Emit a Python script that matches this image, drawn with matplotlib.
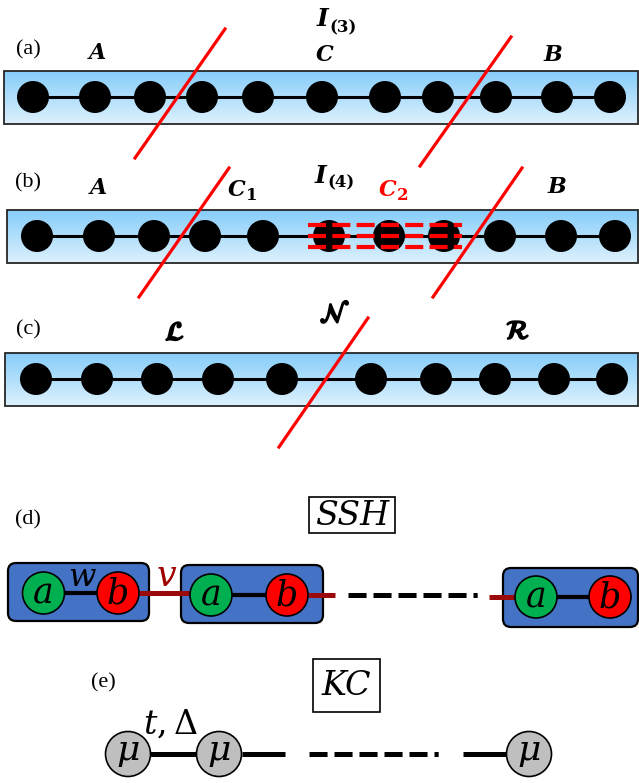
import numpy as np
import matplotlib.pyplot as plt
from matplotlib.patches import Rectangle, Circle, FancyBboxPatch
from matplotlib.colors import LinearSegmentedColormap
import matplotlib.patheffects as pe

plt.rcParams['lines.scale_dashes'] = False

W, H = 639, 783

# site x positions along each chain, panels (a)-(c)
sites_a = [33, 95, 150, 202, 258, 322, 385, 438, 496, 557, 610]
sites_b = [37, 99, 154, 205, 263, 329, 389, 444, 500, 561, 615]
sites_c = [36, 97, 157, 218, 282, 371, 436, 495, 554, 612]
chain_y = [97, 236, 379]
strips = [(4, 71, 124), (7, 210, 263), (5, 353, 406)]  # left, top, bottom

# partition cuts (red slanted lines)
cuts = [((225, 29), (135, 158)), ((511, 37), (420, 166)),
        ((229, 168), (139, 297)), ((522, 168), (433, 297)),
        ((368, 318), (279, 447))]

# region C2 in panel (b), dashed red rows
c2_span = (308, 462)
c2_rows = [225, 236, 247]

# SSH chain, panel (d)
cells = [(8, 149, 563, 621), (181, 323, 565, 623), (503, 638, 568, 627)]
ssh_a = [43.5, 211, 536]
ssh_b = [118, 287, 610]
ssh_y = [593, 595, 597]
ssh_v = [(139, 190, 593), (308, 335, 595), (489, 514, 597)]

# Kitaev chain, panel (e)
kc_x = [128, 219, 529]
kc_y = 754
kc_bonds = [(150, 197), (242, 285), (463, 507)]

panel_tags = [("(a)", 28, 50), ("(b)", 28, 183), ("(c)", 28, 330),
              ("(d)", 28, 520), ("(e)", 103, 683)]

fig = plt.figure(figsize=(W / 100, H / 100), dpi=100)
ax = fig.add_axes([0, 0, 1, 1])

sky = LinearSegmentedColormap.from_list('sky', ['#86cdfa', '#ddf1fd'])
grad = np.linspace(0, 1, 128)[:, None]

for (x0, y0, y1), sites, cy in zip(strips, [sites_a, sites_b, sites_c], chain_y):
    ax.imshow(grad, cmap=sky, extent=(x0, 638, y1, y0), aspect='auto',
              interpolation='bilinear', zorder=1)
    ax.add_patch(Rectangle((x0, y0), 638 - x0, y1 - y0, fill=False,
                           ec='#262626', lw=1.3, zorder=2))
    ax.plot([sites[0], sites[-1]], [cy, cy], color='black', lw=2.2, zorder=2.5)
    for x in sites:
        ax.add_patch(Circle((x, cy), 16, fc='black', ec='none', zorder=3))

for (p, q) in cuts:
    ax.plot([p[0], q[0]], [p[1], q[1]], color='red', lw=2.3, zorder=6)

for yy in c2_rows:
    ax.plot(c2_span, [yy, yy], color='red', lw=3.0, dashes=(13, 4.5), zorder=5)

bold_it = dict(family='DejaVu Serif', style='italic', weight='bold',
               ha='center', va='center', zorder=7)
sub = dict(family='DejaVu Serif', weight='bold', ha='center', va='center', zorder=7)
for s, x, y in [("A", 97, 53), ("C", 325, 55), ("B", 553, 55),
                ("A", 98, 188), ("B", 557, 187)]:
    ax.text(x, y, s, fontsize=16, **bold_it)
ax.text(322, 19, "I", fontsize=18, **bold_it)
ax.text(343, 28, "(3)", fontsize=12, **sub)
ax.text(320, 176, "I", fontsize=18, **bold_it)
ax.text(341, 183, "(4)", fontsize=12, **sub)
ax.text(237, 190, "C", fontsize=16, **bold_it)
ax.text(252, 196, "1", fontsize=12, **sub)
ax.text(388, 190, "C", fontsize=16, color='red', **bold_it)
ax.text(403, 196, "2", fontsize=12, color='red', **sub)

thick = [pe.withStroke(linewidth=1.4, foreground='black')]
for s, x, y in [(r"$\mathcal{L}$", 175, 333), (r"$\mathcal{N}$", 335, 315),
                (r"$\mathcal{R}$", 518, 332)]:
    ax.text(x, y, s, fontsize=19, math_fontfamily='stix', ha='center',
            va='center', path_effects=thick, zorder=7)

for s, x, y in panel_tags:
    ax.text(x, y, s, fontsize=16, family='Liberation Serif', ha='center',
            va='center')

# model name boxes
ax.add_patch(Rectangle((309, 497), 86, 36, fill=False, ec='black', lw=1.2))
ax.text(352, 516, "SSH", fontsize=24, family='DejaVu Serif', style='italic',
        ha='center', va='center')
ax.add_patch(Rectangle((313, 659), 67, 53, fill=False, ec='black', lw=1.2))
ax.text(346.5, 686, "KC", fontsize=24, family='DejaVu Serif', style='italic',
        ha='center', va='center')

# SSH unit cells
for (x0, x1, y0, y1) in cells:
    ax.add_patch(FancyBboxPatch((x0, y0), x1 - x0, y1 - y0,
                                boxstyle='round,pad=0,rounding_size=8',
                                fc='#4472c4', ec='black', lw=1.6, zorder=2))
for xa, xb, y in zip(ssh_a, ssh_b, ssh_y):
    ax.plot([xa, xb], [y, y], color='black', lw=3, zorder=3)
    ax.add_patch(Circle((xa, y), 21, fc='#00b050', ec='black', lw=1.2, zorder=4))
    ax.add_patch(Circle((xb, y), 21, fc='#ff0000', ec='black', lw=1.2, zorder=4))
    ax.text(xa, y + 10, "a", fontsize=25, family='DejaVu Serif', style='italic',
            ha='center', va='baseline', zorder=5)
    ax.text(xb, y + 11, "b", fontsize=25, family='DejaVu Serif', style='italic',
            ha='center', va='baseline', zorder=5)
for x0, x1, y in ssh_v:
    ax.plot([x0, x1], [y, y], color='#9b0a0a', lw=3.6, solid_capstyle='butt', zorder=3)
dash_dot = (13, 5, 13, 5, 13, 5, 13, 5, 13, 5, 3, 60)
ax.plot([348, 478], [595, 595], color='black', lw=3.6, dashes=dash_dot, zorder=3)
ax.text(82, 577, "w", fontsize=23, family='DejaVu Serif', style='italic',
        ha='center', va='center', zorder=5)
ax.text(167, 576, "v", fontsize=25, family='DejaVu Serif', style='italic',
        color='#a00000', ha='center', va='center', zorder=5)

# Kitaev chain
for x0, x1 in kc_bonds:
    ax.plot([x0, x1], [kc_y, kc_y], color='black', lw=3.6, solid_capstyle='butt', zorder=3)
ax.plot([309, 440], [kc_y, kc_y], color='black', lw=3.6, dashes=dash_dot, zorder=3)
for x in kc_x:
    ax.add_patch(Circle((x, kc_y), 22.5, fc='#bfbfbf', ec='black', lw=1.2, zorder=4))
    ax.text(x, kc_y + 6, "\u03bc", fontsize=26, family='DejaVu Serif', style='italic',
            ha='center', va='baseline', zorder=5)
ax.text(143, 724, r"$t,\Delta$", fontsize=24, math_fontfamily='dejavuserif',
        ha='left', va='center', zorder=5)

ax.set_xlim(0, W)
ax.set_ylim(H, 0)
ax.axis('off')
fig.savefig("out.png", dpi=100)
